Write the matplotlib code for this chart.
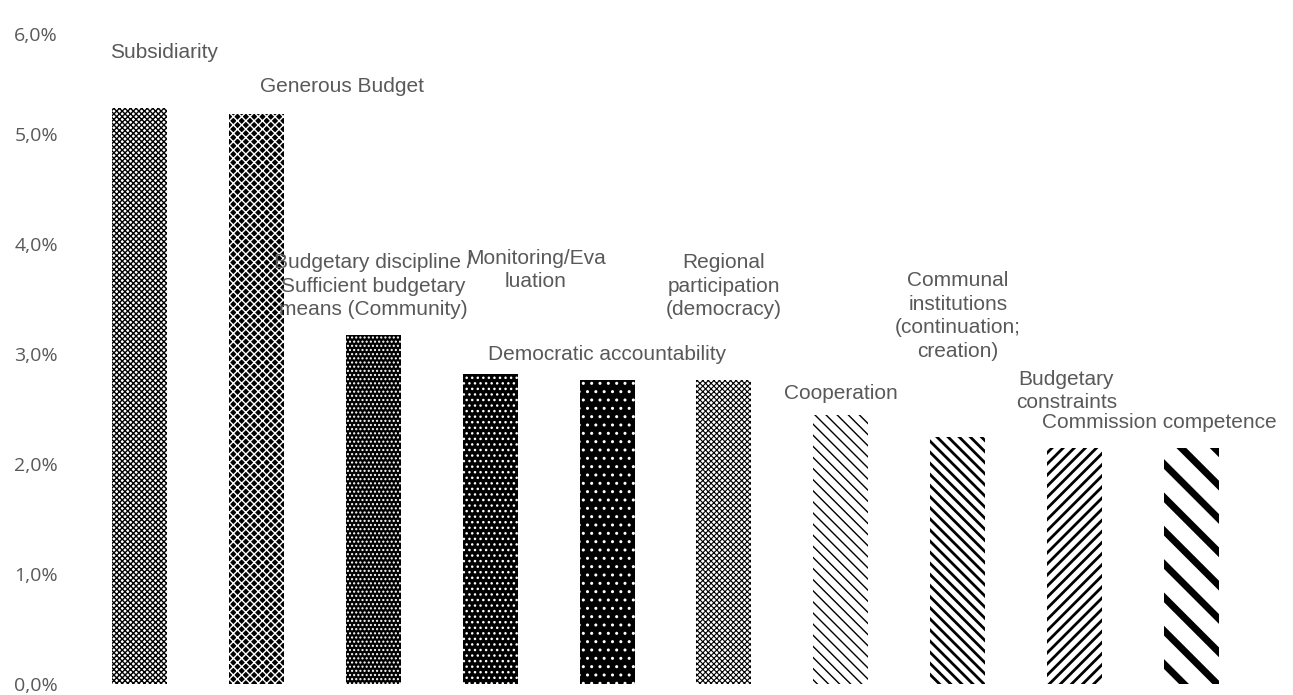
import matplotlib
matplotlib.use("Agg")
import matplotlib.pyplot as plt
import matplotlib.transforms as mtransforms
from matplotlib.ticker import FuncFormatter

categories = [
    "Subsidiarity",
    "Generous Budget",
    "Budgetary discipline /\nSufficient budgetary\nmeans (Community)",
    "Monitoring/Eva\nluation",
    "Democratic accountability",
    "Regional\nparticipation\n(democracy)",
    "Cooperation",
    "Communal\ninstitutions\n(continuation;\ncreation)",
    "Budgetary\nconstraints",
    "Commission competence",
]
values = [5.24, 5.18, 3.17, 2.82, 2.76, 2.76, 2.45, 2.25, 2.15, 2.15]
y_ticks = [0, 1, 2, 3, 4, 5, 6]

# fill pattern per bar: (face, hatch colour, hatch, hatch linewidth)
styles = [
    ("white", "black", "xxxxxx", 1.0),
    ("black", "white", "xxxx", 1.0),
    ("black", "white", "....", 1.0),
    ("black", "white", "...", 1.0),
    ("black", "white", "..", 1.0),
    ("white", "black", "xxxxxx", 0.8),
    ("white", "black", "\\\\\\", 1.0),
    ("white", "black", "\\\\\\", 2.0),
    ("white", "black", "///", 2.0),
    ("white", "black", "\\", 5.0),
]
# label centre offsets (x in bar slots, y in %) from each bar's top
label_offsets = [
    (0.21, 0.505), (0.73, 0.256), (0.0, 0.448), (0.39, 0.944),
    (0.0, 0.231), (0.0, 0.858), (0.0, 0.195), (0.0, 1.095),
    (-0.07, 0.514), (-0.28, 0.223),
]

fig = plt.figure(figsize=(12.93, 6.95), dpi=100)
ax = fig.add_axes([81 / 1293, 1 - 684 / 695, (1250 - 81) / 1293, (684 - 24) / 695])

x = list(range(len(values)))
for i, (v, st) in enumerate(zip(values, styles)):
    face, hcol, hatch, hlw = st
    plt.rcParams["hatch.linewidth"] = hlw
    b = ax.bar(x[i], v, width=0.47, color=face, edgecolor=hcol,
               hatch=hatch, linewidth=0)
    for p in b:
        try:
            p.set_hatch_linewidth(hlw)
        except AttributeError:
            pass

for i, (lab, v) in enumerate(zip(categories, values)):
    dx, dy = label_offsets[i]
    ax.text(x[i] + dx, v + dy, lab, ha="center", va="center",
            multialignment="center",
            fontsize=15, color="#595959", family="Liberation Sans",
            linespacing=1.3)

ax.set_xlim(-0.5, len(values) - 0.5)
ax.set_ylim(0, 6)
ax.set_yticks(y_ticks)
ax.yaxis.set_major_formatter(FuncFormatter(lambda v, _: f"{v:.1f}%".replace(".", ",")))
ax.set_xticks([])
for s in ax.spines.values():
    s.set_visible(False)
ax.tick_params(axis="y", length=0, pad=16.5, labelsize=14, labelcolor="#595959")
for t in ax.get_yticklabels():
    t.set_family("Open Sans")
# top label sits a little below the axis top
top_lab = ax.get_yticklabels()[-1]
top_lab.set_transform(top_lab.get_transform() +
                      mtransforms.ScaledTranslation(0, -10 / 100, fig.dpi_scale_trans))

fig.savefig("out.png", dpi=100)
